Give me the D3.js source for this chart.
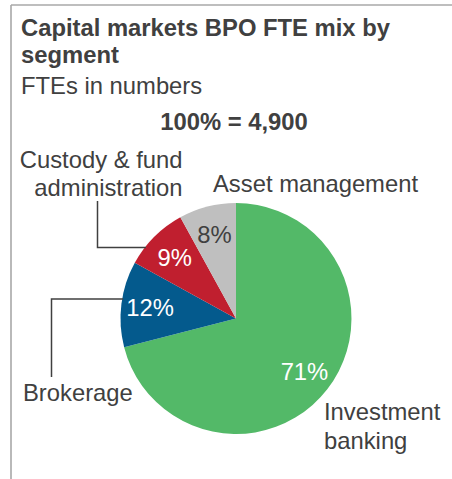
<!DOCTYPE html>
<html>
<head>
<meta charset="utf-8">
<script src="https://cdn.jsdelivr.net/npm/d3@7"></script>
<style>
  html, body { margin: 0; padding: 0; background: #fff; }
  svg { display: block; }
  text { font-family: "Liberation Sans", Arial, Helvetica, sans-serif; }
</style>
</head>
<body>
<svg id="chart" width="452" height="479"></svg>
<script>
// ---- Data ----
const titleLines = ["Capital markets BPO FTE mix by", "segment"];
const subtitle = "FTEs in numbers";
const totalLabel = "100% = 4,900";
const segments = ["Investment banking", "Brokerage", "Custody & fund administration", "Asset management"];
const shares = [71, 12, 9, 8];
const colors = ["#53b968", "#045a8d", "#c01f2f", "#bfbfbf"];
const pctColors = ["#ffffff", "#ffffff", "#ffffff", "#404040"];

// ---- Layout ----
const svg = d3.select("#chart");
const textColor = "#404040";
const fs = 23.8;
const cx = 236, cy = 318.5, R = 115.5;

// frame
svg.append("line").attr("x1", 11).attr("y1", 5).attr("x2", 452).attr("y2", 5)
  .attr("stroke", "#a8a8a8").attr("stroke-width", 1.6);
svg.append("line").attr("x1", 11).attr("y1", 5).attr("x2", 11).attr("y2", 479)
  .attr("stroke", "#a8a8a8").attr("stroke-width", 1.6);

// title
titleLines.forEach((t, i) => {
  svg.append("text").attr("x", 21).attr("y", 35.5 + i * 27.5)
    .attr("font-size", fs).attr("font-weight", "bold").attr("fill", textColor).text(t);
});
svg.append("text").attr("x", 21).attr("y", 94)
  .attr("font-size", fs).attr("fill", textColor).text(subtitle);
svg.append("text").attr("x", 234).attr("y", 130).attr("text-anchor", "middle")
  .attr("font-size", fs).attr("font-weight", "bold").attr("fill", textColor).text(totalLabel);

// pie
const pie = d3.pie().sort(null).value(d => d).startAngle(0).endAngle(2 * Math.PI);
const arcs = pie(shares);
const arc = d3.arc().innerRadius(0).outerRadius(R);
const labelArc = d3.arc().innerRadius(R * 0.75).outerRadius(R * 0.75);

const g = svg.append("g").attr("transform", `translate(${cx},${cy})`);
g.selectAll("path").data(arcs).enter().append("path")
  .attr("d", arc).attr("fill", (d, i) => colors[i]);

g.selectAll("text.pct").data(arcs).enter().append("text")
  .attr("class", "pct")
  .attr("transform", d => `translate(${labelArc.centroid(d)})`)
  .attr("text-anchor", "middle").attr("dy", "0.36em")
  .attr("font-size", fs).attr("fill", (d, i) => pctColors[i])
  .text(d => d.data + "%");

// leader lines (end on pie edge)
function edgeX(y) { const dy = y - cy; return cx - Math.sqrt(R * R - dy * dy); }
const leader = (pts) => svg.append("path").attr("d", d3.line()(pts))
  .attr("fill", "none").attr("stroke", textColor).attr("stroke-width", 1.5);

// Custody & fund administration
const yc = 247.5;
leader([[97.5, 201], [97.5, yc], [edgeX(yc) + 1, yc]]);
const custody = segments[2].split(" administration");
svg.append("text").attr("x", 182.5).attr("y", 167.5).attr("text-anchor", "end")
  .attr("font-size", fs).attr("fill", textColor).text(custody[0]);
svg.append("text").attr("x", 182.5).attr("y", 195.5).attr("text-anchor", "end")
  .attr("font-size", fs).attr("fill", textColor).text("administration");

// Brokerage
const yb = 299;
leader([[51.5, 377], [51.5, yb], [edgeX(yb) + 1, yb]]);
svg.append("text").attr("x", 23).attr("y", 400.5)
  .attr("font-size", fs).attr("fill", textColor).text(segments[1]);

// Asset management
svg.append("text").attr("x", 213).attr("y", 191.5)
  .attr("font-size", fs).attr("fill", textColor).text(segments[3]);

// Investment banking
const ib = segments[0].split(" ");
svg.append("text").attr("x", 324).attr("y", 420)
  .attr("font-size", fs).attr("fill", textColor).text(ib[0]);
svg.append("text").attr("x", 324).attr("y", 448.5)
  .attr("font-size", fs).attr("fill", textColor).text(ib[1]);
</script>
</body>
</html>
